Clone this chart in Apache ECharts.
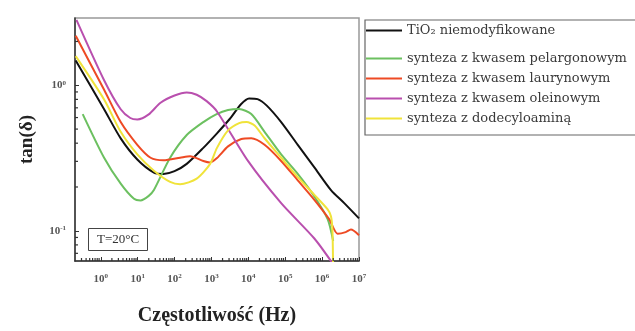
<!DOCTYPE html>
<html>
<head>
<meta charset="utf-8">
<script src="https://cdn.jsdelivr.net/npm/echarts@6/dist/echarts.min.js"></script>
<style>html,body{margin:0;padding:0;background:#fff;}#c{width:635px;height:331px;}</style>
</head>
<body>
<div id="c"></div>
<script>
// Data stored as [log10(frequency / Hz), log10(tan δ)]
const seriesNames = [
  'TiO₂ niemodyfikowane',
  'synteza z kwasem pelargonowym',
  'synteza z kwasem laurynowym',
  'synteza z kwasem oleinowym',
  'synteza z dodecyloaminą'
];
const logTiO2 = [[-0.68,0.17],[0.09,-0.165],[0.54,-0.365],[0.99,-0.51],[1.44,-0.6],[1.70,-0.609],[2.0,-0.59],[2.33,-0.54],[2.78,-0.43],[3.15,-0.33],[3.5,-0.23],[3.8,-0.13],[4.02,-0.09],[4.25,-0.095],[4.5,-0.14],[4.89,-0.253],[5.34,-0.409],[5.79,-0.564],[6.24,-0.72],[6.6,-0.81],[7.0,-0.915]];
const logPelargon = [[-0.49,-0.198],[0.09,-0.498],[0.54,-0.676],[0.9,-0.78],[1.08,-0.791],[1.3,-0.76],[1.44,-0.72],[1.88,-0.498],[2.33,-0.342],[2.78,-0.253],[3.14,-0.198],[3.45,-0.17],[3.75,-0.163],[4.08,-0.198],[4.44,-0.32],[4.89,-0.475],[5.34,-0.609],[5.79,-0.764],[6.15,-0.92],[6.3,-1.07]];
const logLauryn = [[-0.68,0.34],[0.09,-0.031],[0.54,-0.253],[0.99,-0.409],[1.35,-0.498],[1.70,-0.516],[2.15,-0.498],[2.42,-0.487],[2.78,-0.52],[2.96,-0.53],[3.15,-0.5],[3.45,-0.42],[3.81,-0.369],[4.08,-0.364],[4.44,-0.409],[4.89,-0.52],[5.34,-0.653],[5.79,-0.787],[6.19,-0.92],[6.42,-1.02],[6.64,-1.009],[6.78,-0.991],[7.0,-1.03]];
const logOlein = [[-0.66,0.45],[0.09,0.035],[0.54,-0.165],[0.8,-0.225],[0.99,-0.235],[1.3,-0.2],[1.62,-0.12],[2.0,-0.07],[2.33,-0.049],[2.6,-0.065],[2.87,-0.109],[3.15,-0.18],[3.99,-0.52],[4.89,-0.81],[5.79,-1.053],[6.3,-1.23]];
const logDodecyl = [[-0.68,0.2],[0.09,-0.098],[0.54,-0.32],[0.99,-0.475],[1.44,-0.587],[1.88,-0.664],[2.15,-0.68],[2.6,-0.642],[2.96,-0.542],[3.15,-0.43],[3.45,-0.31],[3.75,-0.26],[3.95,-0.253],[4.17,-0.276],[4.44,-0.364],[4.89,-0.498],[5.34,-0.631],[5.79,-0.753],[6.15,-0.853],[6.24,-0.9],[6.28,-1.0],[6.3,-1.3]];
const seriesColors = ['#111111','#6cc060','#ee4a24','#b94fae','#f0e33a'];

const xMin = 0.2, xMax = 1e7;
const yMin = 0.062, yMax = 2.9;
const minorMultipliers = [2,3,4,5,6,7,8,9];
const xDecades = [0.1,1,10,100,1e3,1e4,1e5,1e6];
const yDecades = [0.01,0.1,1];

const toLin = arr => arr.map(p => [Math.pow(10,p[0]), Math.pow(10,p[1])]);
const allData = [logTiO2, logPelargon, logLauryn, logOlein, logDodecyl];

const xMinor = [], yMinor = [];
xDecades.forEach(d => minorMultipliers.forEach(m => { const v = d*m; if (v > xMin && v < xMax) xMinor.push([v, yMin]); }));
yDecades.forEach(d => minorMultipliers.forEach(m => { const v = d*m; if (v > yMin && v < yMax) yMinor.push([xMin, v]); }));

function fmt(v){
  const e = Math.round(Math.log10(v));
  return '{b|10}{s|' + String(e) + '}';
}
const labelRich = {
  b:{fontFamily:'Liberation Serif',fontWeight:'bold',fontSize:11,color:'#555',lineHeight:12},
  s:{fontFamily:'Liberation Serif',fontWeight:'bold',fontSize:7,color:'#555',verticalAlign:'top',lineHeight:12}
};

const chart = echarts.init(document.getElementById('c'));
const legendText = {fontFamily:'DejaVu Serif',fontSize:13,color:'#3a3a3a',lineHeight:12};
const legendBase = {left:366,orient:'vertical',icon:'rect',itemWidth:36,itemHeight:2,itemGap:7,textStyle:legendText,padding:0};
const option = {
  animation:false,
  backgroundColor:'#fff',
  grid:{left:75,right:276,top:18,bottom:63,show:true,borderColor:'#999',borderWidth:1.5,backgroundColor:'transparent'},
  title:{text:'T=20°C',left:88,top:228,padding:[5,9,5,9],borderWidth:1,borderColor:'#444',
    textStyle:{fontFamily:'Liberation Serif',fontSize:13,fontWeight:'normal',color:'#333'}},
  legend:[
    Object.assign({data:[seriesNames[0]],top:24}, legendBase),
    Object.assign({data:seriesNames.slice(1),top:52}, legendBase)
  ],
  graphic:[{type:'rect',shape:{x:365,y:20,width:290,height:115},style:{fill:'none',stroke:'#666',lineWidth:1.2},silent:true}],
  xAxis:{type:'log',logBase:10,min:xMin,max:xMax,
    name:'Częstotliwość (Hz)',nameLocation:'middle',nameGap:45,
    nameTextStyle:{fontFamily:'Liberation Serif',fontWeight:'bold',fontSize:20,color:'#222'},
    axisLine:{lineStyle:{color:'#333',width:1.5}},
    axisTick:{inside:true,length:4,lineStyle:{color:'#333'}},
    axisLabel:{formatter:fmt,rich:labelRich,margin:12,showMinLabel:false,showMaxLabel:true},
    splitLine:{show:false}},
  yAxis:{type:'log',logBase:10,min:yMin,max:yMax,
    name:'tan(δ)',nameLocation:'middle',nameGap:38,
    nameTextStyle:{fontFamily:'Liberation Serif',fontWeight:'bold',fontSize:19,color:'#222'},
    axisLine:{lineStyle:{color:'#333',width:1.5}},
    axisTick:{inside:true,length:4,lineStyle:{color:'#333'}},
    axisLabel:{formatter:fmt,rich:labelRich,margin:9,showMinLabel:false,showMaxLabel:false},
    splitLine:{show:false}},
  series: allData.map((d,i) => ({
    name:seriesNames[i],type:'line',data:toLin(d),symbol:'none',smooth:0.25,
    lineStyle:{width:2,color:seriesColors[i]},itemStyle:{color:seriesColors[i]},clip:true
  })).concat([
    {type:'custom',silent:true,data:xMinor,z:5,clip:false,
      renderItem:(p,api)=>{const c=api.coord([api.value(0),api.value(1)]);
        return {type:'line',shape:{x1:c[0],y1:c[1],x2:c[0],y2:c[1]-3},style:{stroke:'#333',lineWidth:1.2}};}},
    {type:'custom',silent:true,data:yMinor,z:5,clip:false,
      renderItem:(p,api)=>{const c=api.coord([api.value(0),api.value(1)]);
        return {type:'line',shape:{x1:c[0],y1:c[1],x2:c[0]+3,y2:c[1]},style:{stroke:'#333',lineWidth:1.2}};}}
  ])
};
chart.setOption(option);
</script>
</body>
</html>
